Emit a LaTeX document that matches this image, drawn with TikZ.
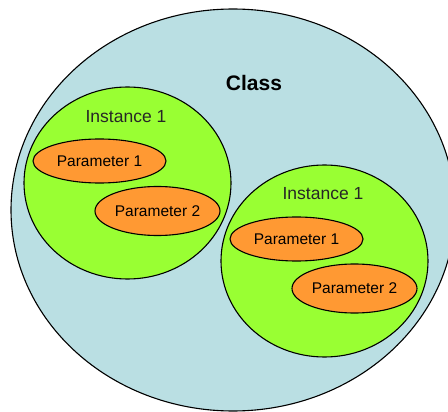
\documentclass[tikz,border=0pt]{standalone}
\usepackage{fontspec}
\setmainfont{Liberation Sans}
\usepackage{xcolor}
\usepackage{tikz}
\usetikzlibrary{shapes.geometric}
\definecolor{classblue}{HTML}{BADFE3}
\definecolor{instgreen}{HTML}{99FF33}
\definecolor{paramorange}{HTML}{FF9933}
\tikzset{
  blob/.style={ellipse,draw=black,line width=1.1pt,inner sep=0pt},
  classbox/.style={blob,fill=classblue,minimum width=444pt,minimum height=402pt},
  instance/.style={blob,fill=instgreen,minimum width=207pt,minimum height=192pt},
  param/.style={blob,fill=paramorange,font=\fontsize{15.5}{18}\selectfont},
  paramone/.style={param,minimum width=133pt,minimum height=44pt},
  paramtwo/.style={param,minimum width=125pt,minimum height=49pt},
  label/.style={font=\fontsize{17.5}{20}\selectfont,text=black!85},
  title/.style={font=\fontsize{21}{24}\selectfont\bfseries}
}
\begin{document}
\begin{tikzpicture}[x=1pt,y=-1pt]
\useasboundingbox (0,0) rectangle (448,412);
\clip (0,0) rectangle (448,412);
\node[classbox] (class) at (233,210) {};
\node[title] (classname) at (254,83) {Class};

\node[instance] (instA) at (127.5,183) {};
\node[label] (instAname) at (126,117) {Instance 1};
\node[paramone] (paramA1) at (99.5,161) {Parameter 1};
\node[paramtwo] (paramA2) at (157.5,211) {Parameter 2};

\node[instance] (instB) at (324.5,261) {};
\node[label] (instBname) at (323,194) {Instance 1};
\node[paramone] (paramB1) at (296.5,239) {Parameter 1};
\node[paramtwo] (paramB2) at (354.5,288.5) {Parameter 2};
\end{tikzpicture}
\end{document}
